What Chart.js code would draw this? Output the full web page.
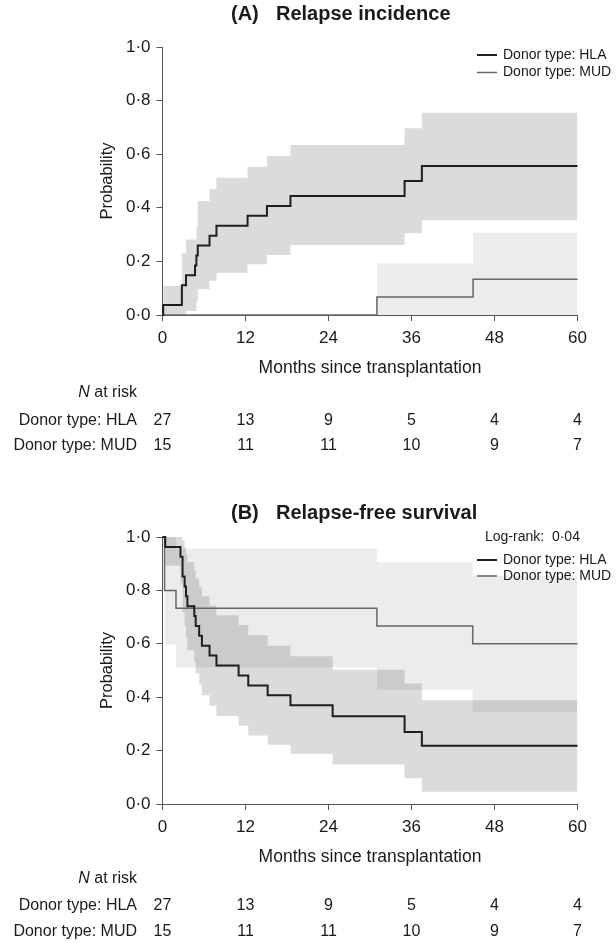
<!DOCTYPE html>
<html>
<head>
<meta charset="utf-8">
<script src="https://cdn.jsdelivr.net/npm/chart.js@4.4.0/dist/chart.umd.min.js"></script>
<style>
  body { margin: 0; background: #fff; }
  .panel { position: absolute; left: 0; width: 616px; }
</style>
</head>
<body>
<div class="panel" style="top:0;height:465px"><canvas id="chartA"></canvas></div>
<div class="panel" style="top:465px;height:478px"><canvas id="chartB"></canvas></div>
<script>
// ticks / risk table
var months = [0, 12, 24, 36, 48, 60];
var riskHLA = [27, 13, 9, 5, 4, 4];
var riskMUD = [15, 11, 11, 10, 9, 7];

// (A) relapse incidence, HLA
var relHLA_t = [0, 0.1, 2.8, 3.4, 4.7, 4.9, 5.1, 6.8, 7.8, 12.3, 15.1, 18.5, 35.0, 37.5, 60];
var relHLA_p = [0, 0.037, 0.111, 0.148, 0.185, 0.222, 0.259, 0.296, 0.333, 0.370, 0.407, 0.444, 0.5, 0.556, 0.556];
var relHLAci_t = [0.1, 2.8, 3.4, 4.9, 5.1, 6.8, 7.8, 12.3, 15.1, 18.5, 35, 37.5, 60];
var relHLA_up = [0.108, 0.23, 0.282, 0.33, 0.425, 0.469, 0.512, 0.553, 0.593, 0.634, 0.697, 0.755, 0.755];
var relHLA_lo = [0, 0, 0.015, 0.05, 0.096, 0.128, 0.158, 0.189, 0.224, 0.261, 0.305, 0.354, 0.354];
// (A) relapse incidence, MUD
var relMUD_t = [0, 31, 44.9, 60];
var relMUD_p = [0, 0.067, 0.133, 0.133];
var relMUDci_t = [31, 44.9, 60];
var relMUD_up = [0.193, 0.307, 0.307];
var relMUD_lo = [0, 0, 0];

// (B) relapse-free survival, HLA
var rfsHLA_t = [0, 0.4, 2.6, 2.9, 3.2, 3.4, 3.6, 4.6, 4.8, 5.3, 5.7, 6.8, 7.8, 11.0, 12.4, 15.2, 18.5, 24.6, 35.0, 37.5, 60];
var rfsHLA_p = [1, 0.963, 0.926, 0.852, 0.815, 0.778, 0.741, 0.704, 0.667, 0.630, 0.593, 0.556, 0.519, 0.481, 0.444, 0.407, 0.370, 0.329, 0.270, 0.218, 0.218];
var rfsHLAci_t = [0.4, 2.6, 2.9, 3.2, 3.4, 3.6, 4.6, 4.8, 5.3, 5.7, 6.8, 7.8, 11.0, 12.4, 15.2, 18.5, 24.6, 35.0, 37.5, 60];
var rfsHLA_up = [1, 1, 0.986, 0.962, 0.935, 0.906, 0.876, 0.845, 0.812, 0.778, 0.743, 0.707, 0.670, 0.632, 0.593, 0.553, 0.503, 0.451, 0.389, 0.389];
var rfsHLA_lo = [0.892, 0.827, 0.718, 0.668, 0.621, 0.576, 0.532, 0.489, 0.448, 0.407, 0.368, 0.330, 0.293, 0.257, 0.222, 0.188, 0.148, 0.096, 0.046, 0.046];
// (B) relapse-free survival, MUD
var rfsMUD_t = [0, 0.3, 1.95, 31, 44.85, 60];
var rfsMUD_p = [1, 0.8, 0.733, 0.667, 0.6, 0.6];
var rfsMUDci_t = [0.3, 1.95, 31, 44.85, 60];
var rfsMUD_up = [1, 0.956, 0.905, 0.855, 0.855];
var rfsMUD_lo = [0.597, 0.511, 0.428, 0.345, 0.345];

var FONT = '"Liberation Sans", Arial, sans-serif';
var TXT = '#1a1a1a';

function pts(t, p) {
  return t.map(function(v, i) { return {x: v, y: p[i]}; });
}

function lineSet(t, p, color, w) {
  return {data: pts(t, p), stepped: 'before', borderColor: color, borderWidth: w,
          pointRadius: 0, fill: false, order: 0, clip: false};
}

function bandSets(t, up, lo, color, ord) {
  return [
    {data: pts(t, up), stepped: 'before', borderColor: 'rgba(0,0,0,0)', borderWidth: 0,
     pointRadius: 0, fill: '+1', backgroundColor: color, order: ord},
    {data: pts(t, lo), stepped: 'before', borderColor: 'rgba(0,0,0,0)', borderWidth: 0,
     pointRadius: 0, fill: false, order: ord}
  ];
}

var textPlugin = {
  id: 'texts',
  afterDraw: function(chart) {
    var o = chart.options.plugins.texts;
    var ctx = chart.ctx, xs = chart.scales.x, a = chart.chartArea;
    ctx.save();
    ctx.fillStyle = TXT;
    ctx.textBaseline = 'middle';

    // title
    ctx.font = 'bold 20px ' + FONT;
    ctx.textAlign = 'left';
    ctx.fillText(o.tag, 231, o.titleY);
    ctx.fillText(o.title, 276, o.titleY);

    // y label
    ctx.font = '16.5px ' + FONT;
    ctx.save();
    ctx.translate(107, (a.top + a.bottom) / 2);
    ctx.rotate(-Math.PI / 2);
    ctx.textAlign = 'center';
    ctx.fillText('Probability', 0, 0);
    ctx.restore();

    // x label
    ctx.font = '17.5px ' + FONT;
    ctx.textAlign = 'center';
    ctx.fillText('Months since transplantation', (a.left + a.right) / 2, o.xLabelY);

    // legend
    ctx.font = '14px ' + FONT;
    ctx.textAlign = 'left';
    if (o.logrank) ctx.fillText(o.logrank, 485, o.legendY - 23);
    var names = ['Donor type: HLA', 'Donor type: MUD'];
    var cols = ['#1e1e1e', '#666'];
    var lw = [2, 1.5];
    for (var i = 0; i < 2; i++) {
      var ly = o.legendY + i * o.legendGap;
      ctx.strokeStyle = cols[i];
      ctx.lineWidth = lw[i];
      ctx.beginPath();
      ctx.moveTo(477, ly);
      ctx.lineTo(497, ly);
      ctx.stroke();
      ctx.fillText(names[i], 503, ly);
    }

    // number at risk
    ctx.font = 'italic 16px ' + FONT;
    var nw = ctx.measureText('N').width;
    ctx.font = '16px ' + FONT;
    var rw = ctx.measureText(' at risk').width;
    ctx.textAlign = 'left';
    ctx.font = 'italic 16px ' + FONT;
    ctx.fillText('N', 137 - rw - nw, o.riskY[0]);
    ctx.font = '16px ' + FONT;
    ctx.fillText(' at risk', 137 - rw, o.riskY[0]);
    ctx.textAlign = 'right';
    ctx.fillText('Donor type: HLA', 137, o.riskY[1]);
    ctx.fillText('Donor type: MUD', 137, o.riskY[2]);
    ctx.textAlign = 'center';
    for (var j = 0; j < months.length; j++) {
      var px = xs.getPixelForValue(months[j]);
      ctx.fillText(String(riskHLA[j]), px, o.riskY[1]);
      ctx.fillText(String(riskMUD[j]), px, o.riskY[2]);
    }
    ctx.restore();
  }
};

function makeChart(id, datasets, top, bottomPad, texts) {
  return new Chart(document.getElementById(id), {
    type: 'line',
    data: {datasets: datasets},
    plugins: [textPlugin],
    options: {
      responsive: true,
      maintainAspectRatio: false,
      animation: false,
      layout: {padding: {left: 0, right: 38.5, top: top, bottom: bottomPad}},
      plugins: {legend: {display: false}, tooltip: {enabled: false}, texts: texts},
      scales: {
        x: {
          type: 'linear', min: 0, max: 60,
          ticks: {stepSize: 12, font: {size: 17, family: FONT}, color: TXT, padding: 7, maxRotation: 0},
          grid: {drawOnChartArea: false, drawTicks: true, tickLength: 6, color: '#555'},
          border: {color: '#555', width: 1},
          afterFit: function(s) { s.height = 40; }
        },
        y: {
          min: 0, max: 1,
          ticks: {stepSize: 0.2, font: {size: 17, family: FONT}, color: TXT, padding: 6,
                  callback: function(v) { return v.toFixed(1).replace('.', '\u00b7'); }},
          grid: {drawOnChartArea: false, drawTicks: true, tickLength: 6, color: '#555'},
          border: {color: '#555', width: 1},
          afterFit: function(s) { s.width = 162.5; }
        }
      }
    }
  });
}

var dsA = [
  lineSet(relHLA_t, relHLA_p, '#1e1e1e', 2),
  lineSet(relMUD_t, relMUD_p, '#666', 1.5)
].concat(
  bandSets(relHLAci_t, relHLA_up, relHLA_lo, 'rgba(0,0,0,0.14)', 2),
  bandSets(relMUDci_t, relMUD_up, relMUD_lo, 'rgba(0,0,0,0.075)', 3)
);

var dsB = [
  lineSet(rfsHLA_t, rfsHLA_p, '#1e1e1e', 2),
  lineSet(rfsMUD_t, rfsMUD_p, '#666', 1.5)
].concat(
  bandSets(rfsHLAci_t, rfsHLA_up, rfsHLA_lo, 'rgba(0,0,0,0.14)', 2),
  bandSets(rfsMUDci_t, rfsMUD_up, rfsMUD_lo, 'rgba(0,0,0,0.075)', 3)
);

makeChart('chartA', dsA, 47, 110, {
  tag: '(A)', title: 'Relapse incidence', titleY: 14,
  legendY: 55, legendGap: 17.5, xLabelY: 368, riskY: [393, 421, 446]
});

makeChart('chartB', dsB, 72, 99, {
  tag: '(B)', title: 'Relapse-free survival', titleY: 48, logrank: 'Log-rank:  0\u00b704',
  legendY: 95, legendGap: 16, xLabelY: 392, riskY: [414, 441, 467]
});
</script>
</body>
</html>
